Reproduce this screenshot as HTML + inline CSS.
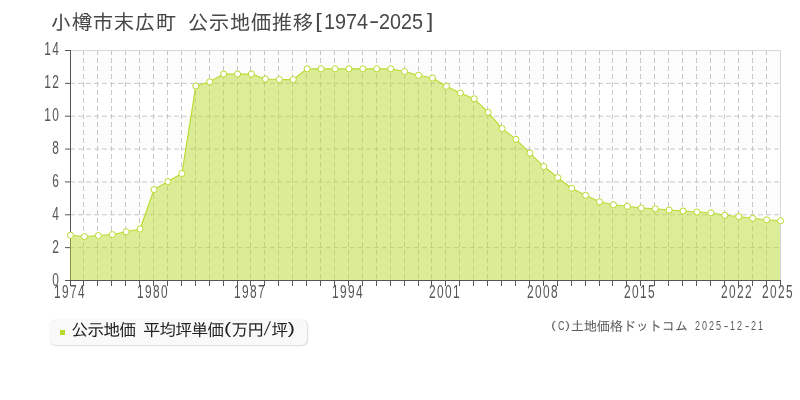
<!DOCTYPE html>
<html lang="ja">
<head>
<meta charset="utf-8">
<title>小樽市末広町 公示地価推移[1974-2025]</title>
<style>
html,body{margin:0;padding:0;background:#fff;}
body{width:800px;height:400px;position:relative;overflow:hidden;font-family:"Liberation Sans","IPAGothic","Noto Sans CJK JP",sans-serif;color:#333;}
.chart{position:absolute;left:0;top:0;}
.lat{display:inline-block;transform-origin:0 50%;white-space:nowrap;letter-spacing:0;vertical-align:baseline;position:relative;}
.lat i{font-style:normal;display:inline-block;text-align:center;letter-spacing:0;}
.lat .bl{transform:translate(0.0em,-0.02em) scale(1.2,0.87);}
.lat .br{transform:translate(0.075em,-0.02em) scale(1.2,0.87);}
.lat .pl{transform:translate(0.036em,-0.06em) scale(1.5,1.0);}
.lat .pr{transform:translate(0.03em,-0.06em) scale(1.5,1.0);}
.lat .hy{transform:translate(0.035em,-0.03em) scale(1.56,1);}
.lat .sl{transform:translate(0.02em,-0.03em) skewX(-15deg) scale(1.0,1.16);}
.lat .cc{transform:translate(0em,-0.03em) scale(0.72,0.88);}
.title{position:absolute;left:50.8px;top:10.3px;font-size:20.8px;line-height:24px;letter-spacing:0.2px;white-space:nowrap;color:#474747;}
.title .sp{display:inline-block;width:11px;}
.yl,.xl{position:absolute;font-size:17.5px;letter-spacing:2.03px;line-height:16px;height:16px;color:#555;white-space:nowrap;transform:scaleX(0.68);}
.yl{left:0;width:60.3px;text-align:right;transform-origin:100% 50%;margin-top:-0.8px;}
.xl{top:284.2px;width:60px;text-align:center;transform-origin:50% 50%;margin-left:-1.0px;}
.legend{position:absolute;left:50px;top:319.6px;width:256.8px;height:25.2px;box-sizing:border-box;background:#f9f9f9;border-radius:6px;box-shadow:0.5px 0.8px 1.5px rgba(0,0,0,.15);}
.legend .sw{position:absolute;left:10px;top:10.4px;width:5px;height:5px;background:#b9db31;}
.legend .lb{position:absolute;left:21.3px;top:0.1px;font-size:17px;letter-spacing:-1px;line-height:20px;white-space:nowrap;color:#222;}
.legend .sp{display:inline-block;width:8px;}
.copy{position:absolute;left:549.7px;top:318px;font-size:13.33px;line-height:16px;letter-spacing:-0.33px;white-space:nowrap;color:#5a5a5a;}
.copy .sp{display:inline-block;width:7px;}
.copy .pl{transform:translate(0.0em,-0.06em) scale(1.1,0.79);}
.copy .pr{transform:translate(0.0em,-0.06em) scale(1.1,0.79);}
</style>
</head>
<body>
<svg class="chart" width="800" height="400" viewBox="0 0 800 400">
<rect x="70.5" y="50.5" width="710" height="32.86" fill="#fcfcfc"/>
<rect x="70.5" y="116.21" width="710" height="32.86" fill="#fcfcfc"/>
<rect x="70.5" y="181.93" width="710" height="32.86" fill="#fcfcfc"/>
<rect x="70.5" y="247.64" width="710" height="32.86" fill="#fcfcfc"/>
<g fill="none" stroke="#c8c8c8" stroke-width="1" stroke-dasharray="5 3"><path d="M83.5 50V280.5"/><path d="M97.5 50V280.5"/><path d="M111.5 50V280.5"/><path d="M125.5 50V280.5"/><path d="M139.5 50V280.5"/><path d="M153.5 50V280.5"/><path d="M167.5 50V280.5"/><path d="M181.5 50V280.5"/><path d="M195.5 50V280.5"/><path d="M209.5 50V280.5"/><path d="M223.5 50V280.5"/><path d="M237.5 50V280.5"/><path d="M250.5 50V280.5"/><path d="M264.5 50V280.5"/><path d="M278.5 50V280.5"/><path d="M292.5 50V280.5"/><path d="M306.5 50V280.5"/><path d="M320.5 50V280.5"/><path d="M334.5 50V280.5"/><path d="M348.5 50V280.5"/><path d="M362.5 50V280.5"/><path d="M376.5 50V280.5"/><path d="M390.5 50V280.5"/><path d="M404.5 50V280.5"/><path d="M418.5 50V280.5"/><path d="M431.5 50V280.5"/><path d="M445.5 50V280.5"/><path d="M459.5 50V280.5"/><path d="M473.5 50V280.5"/><path d="M487.5 50V280.5"/><path d="M501.5 50V280.5"/><path d="M515.5 50V280.5"/><path d="M529.5 50V280.5"/><path d="M543.5 50V280.5"/><path d="M557.5 50V280.5"/><path d="M571.5 50V280.5"/><path d="M585.5 50V280.5"/><path d="M599.5 50V280.5"/><path d="M612.5 50V280.5"/><path d="M626.5 50V280.5"/><path d="M640.5 50V280.5"/><path d="M654.5 50V280.5"/><path d="M668.5 50V280.5"/><path d="M682.5 50V280.5"/><path d="M696.5 50V280.5"/><path d="M710.5 50V280.5"/><path d="M724.5 50V280.5"/><path d="M738.5 50V280.5"/><path d="M752.5 50V280.5"/><path d="M766.5 50V280.5"/><path d="M70 247.64H780.5"/><path d="M70 214.79H780.5"/><path d="M70 181.93H780.5"/><path d="M70 149.07H780.5"/><path d="M70 116.21H780.5"/><path d="M70 83.36H780.5"/></g>
<path d="M70.5 50.5H780.5V280.5" fill="none" stroke="#d5d5da" stroke-width="1"/>
<g fill="none" stroke="#555555" stroke-width="1"><path d="M70.5 50V281"/><path d="M70 280.5H781"/><path d="M65 280.5H70.5"/><path d="M65 247.64H70.5"/><path d="M65 214.79H70.5"/><path d="M65 181.93H70.5"/><path d="M65 149.07H70.5"/><path d="M65 116.21H70.5"/><path d="M65 83.36H70.5"/><path d="M65 50.5H70.5"/><path d="M70.5 280.5V286"/><path d="M83.5 280.5V286"/><path d="M97.5 280.5V286"/><path d="M111.5 280.5V286"/><path d="M125.5 280.5V286"/><path d="M139.5 280.5V286"/><path d="M153.5 280.5V286"/><path d="M167.5 280.5V286"/><path d="M181.5 280.5V286"/><path d="M195.5 280.5V286"/><path d="M209.5 280.5V286"/><path d="M223.5 280.5V286"/><path d="M237.5 280.5V286"/><path d="M250.5 280.5V286"/><path d="M264.5 280.5V286"/><path d="M278.5 280.5V286"/><path d="M292.5 280.5V286"/><path d="M306.5 280.5V286"/><path d="M320.5 280.5V286"/><path d="M334.5 280.5V286"/><path d="M348.5 280.5V286"/><path d="M362.5 280.5V286"/><path d="M376.5 280.5V286"/><path d="M390.5 280.5V286"/><path d="M404.5 280.5V286"/><path d="M418.5 280.5V286"/><path d="M431.5 280.5V286"/><path d="M445.5 280.5V286"/><path d="M459.5 280.5V286"/><path d="M473.5 280.5V286"/><path d="M487.5 280.5V286"/><path d="M501.5 280.5V286"/><path d="M515.5 280.5V286"/><path d="M529.5 280.5V286"/><path d="M543.5 280.5V286"/><path d="M557.5 280.5V286"/><path d="M571.5 280.5V286"/><path d="M585.5 280.5V286"/><path d="M599.5 280.5V286"/><path d="M612.5 280.5V286"/><path d="M626.5 280.5V286"/><path d="M640.5 280.5V286"/><path d="M654.5 280.5V286"/><path d="M668.5 280.5V286"/><path d="M682.5 280.5V286"/><path d="M696.5 280.5V286"/><path d="M710.5 280.5V286"/><path d="M724.5 280.5V286"/><path d="M738.5 280.5V286"/><path d="M752.5 280.5V286"/><path d="M766.5 280.5V286"/><path d="M780.5 280.5V286"/></g>
<path d="M70 280L70 235.3L70.5 235.3L84.42 236.55L98.34 235.55L112.26 234.55L126.19 231.8L140.11 229.05L154.03 189.55L167.95 181.55L181.87 173.55L195.79 86.05L209.72 81.8L223.64 74.05L237.56 74.05L251.48 74.05L265.4 79.05L279.32 79.55L293.25 79.55L307.17 68.8L321.09 68.8L335.01 68.8L348.93 68.8L362.85 68.8L376.77 68.8L390.7 68.8L404.62 71.55L418.54 75.3L432.46 78.05L446.38 86.3L460.3 93.05L474.23 98.8L488.15 112.3L502.07 128.55L515.99 139.3L529.91 153.05L543.83 166.55L557.75 177.55L571.68 188.3L585.6 195.3L599.52 201.8L613.44 204.8L627.36 206.3L641.28 208.05L655.21 208.8L669.13 210.05L683.05 211.05L696.97 212.05L710.89 212.8L724.81 215.3L738.74 216.55L752.66 218.3L766.58 219.8L780 220.8L780 280Z" fill="#b9db31" fill-opacity="0.5"/>
<path d="M70.5 235.3L84.42 236.55L98.34 235.55L112.26 234.55L126.19 231.8L140.11 229.05L154.03 189.55L167.95 181.55L181.87 173.55L195.79 86.05L209.72 81.8L223.64 74.05L237.56 74.05L251.48 74.05L265.4 79.05L279.32 79.55L293.25 79.55L307.17 68.8L321.09 68.8L335.01 68.8L348.93 68.8L362.85 68.8L376.77 68.8L390.7 68.8L404.62 71.55L418.54 75.3L432.46 78.05L446.38 86.3L460.3 93.05L474.23 98.8L488.15 112.3L502.07 128.55L515.99 139.3L529.91 153.05L543.83 166.55L557.75 177.55L571.68 188.3L585.6 195.3L599.52 201.8L613.44 204.8L627.36 206.3L641.28 208.05L655.21 208.8L669.13 210.05L683.05 211.05L696.97 212.05L710.89 212.8L724.81 215.3L738.74 216.55L752.66 218.3L766.58 219.8L780.5 220.8" fill="none" stroke="#b9db31" stroke-width="1.15" stroke-linejoin="round" stroke-linecap="round"/>
<g fill="#ffffff" stroke="#b9db31" stroke-width="1"><circle cx="70.5" cy="235.3" r="3.05"/><circle cx="84.42" cy="236.55" r="3.05"/><circle cx="98.34" cy="235.55" r="3.05"/><circle cx="112.26" cy="234.55" r="3.05"/><circle cx="126.19" cy="231.8" r="3.05"/><circle cx="140.11" cy="229.05" r="3.05"/><circle cx="154.03" cy="189.55" r="3.05"/><circle cx="167.95" cy="181.55" r="3.05"/><circle cx="181.87" cy="173.55" r="3.05"/><circle cx="195.79" cy="86.05" r="3.05"/><circle cx="209.72" cy="81.8" r="3.05"/><circle cx="223.64" cy="74.05" r="3.05"/><circle cx="237.56" cy="74.05" r="3.05"/><circle cx="251.48" cy="74.05" r="3.05"/><circle cx="265.4" cy="79.05" r="3.05"/><circle cx="279.32" cy="79.55" r="3.05"/><circle cx="293.25" cy="79.55" r="3.05"/><circle cx="307.17" cy="68.8" r="3.05"/><circle cx="321.09" cy="68.8" r="3.05"/><circle cx="335.01" cy="68.8" r="3.05"/><circle cx="348.93" cy="68.8" r="3.05"/><circle cx="362.85" cy="68.8" r="3.05"/><circle cx="376.77" cy="68.8" r="3.05"/><circle cx="390.7" cy="68.8" r="3.05"/><circle cx="404.62" cy="71.55" r="3.05"/><circle cx="418.54" cy="75.3" r="3.05"/><circle cx="432.46" cy="78.05" r="3.05"/><circle cx="446.38" cy="86.3" r="3.05"/><circle cx="460.3" cy="93.05" r="3.05"/><circle cx="474.23" cy="98.8" r="3.05"/><circle cx="488.15" cy="112.3" r="3.05"/><circle cx="502.07" cy="128.55" r="3.05"/><circle cx="515.99" cy="139.3" r="3.05"/><circle cx="529.91" cy="153.05" r="3.05"/><circle cx="543.83" cy="166.55" r="3.05"/><circle cx="557.75" cy="177.55" r="3.05"/><circle cx="571.68" cy="188.3" r="3.05"/><circle cx="585.6" cy="195.3" r="3.05"/><circle cx="599.52" cy="201.8" r="3.05"/><circle cx="613.44" cy="204.8" r="3.05"/><circle cx="627.36" cy="206.3" r="3.05"/><circle cx="641.28" cy="208.05" r="3.05"/><circle cx="655.21" cy="208.8" r="3.05"/><circle cx="669.13" cy="210.05" r="3.05"/><circle cx="683.05" cy="211.05" r="3.05"/><circle cx="696.97" cy="212.05" r="3.05"/><circle cx="710.89" cy="212.8" r="3.05"/><circle cx="724.81" cy="215.3" r="3.05"/><circle cx="738.74" cy="216.55" r="3.05"/><circle cx="752.66" cy="218.3" r="3.05"/><circle cx="766.58" cy="219.8" r="3.05"/><circle cx="780.5" cy="220.8" r="3.05"/></g>
</svg>
<div class="title">小樽市末広町<span class="sp"> </span>公示地価推移<span class="lat" style="font-size:22.66px;width:138.6px;margin-right:-17.6px;transform:scaleX(0.873);top:-1.7px;left:-1px"><i class="bl" style="width:12.6px">[</i>1974<i class="hy" style="width:12.6px">-</i>2025<i class="br" style="width:12.6px">]</i></span></div>
<div class="ylabels"><div class="yl" style="top:272.5px">0</div><div class="yl" style="top:239.64px">2</div><div class="yl" style="top:206.79px">4</div><div class="yl" style="top:173.93px">6</div><div class="yl" style="top:141.07px">8</div><div class="yl" style="top:108.21px">10</div><div class="yl" style="top:74.76px">12</div><div class="yl" style="top:41.3px">14</div></div>
<div class="xlabels"><div class="xl" style="left:40.5px">1974</div><div class="xl" style="left:123.9px">1980</div><div class="xl" style="left:220.9px">1987</div><div class="xl" style="left:318.9px">1994</div><div class="xl" style="left:415.9px">2001</div><div class="xl" style="left:513.9px">2008</div><div class="xl" style="left:610.9px">2015</div><div class="xl" style="left:708px">2022</div><div class="xl" style="left:749.4px">2025</div></div>
<div class="legend"><span class="sw"></span><span class="lb">公示地価<span class="sp"> </span>平均坪単価<span class="lat" style="font-size:16.48px;width:9.16px;margin-right:-1.16px;transform:scaleX(0.873);top:-1px;left:0px"><i class="pl" style="width:9.16px">(</i></span>万円<span class="lat" style="font-size:16.48px;width:9.16px;margin-right:-1.16px;transform:scaleX(0.873);top:-1px;left:0px"><i class="sl" style="width:9.16px">/</i></span>坪<span class="lat" style="font-size:16.48px;width:9.16px;margin-right:-1.16px;transform:scaleX(0.873);top:-1px;left:0px"><i class="pr" style="width:9.16px">)</i></span></span></div>
<div class="copy"><span class="lat" style="font-size:14.42px;width:24.05px;margin-right:-3.05px;transform:scaleX(0.873);top:-0.5px;left:0px"><i class="pl" style="width:8.02px">(</i><i class="cc" style="width:8.02px">C</i><i class="pr" style="width:8.02px">)</i></span>土地価格ドットコム<span class="sp"> </span><span class="lat" style="font-size:12.9px;width:100px;margin-right:-30px;transform:scaleX(0.7);letter-spacing:2.83px;top:-1.3px;left:0px">2025<i class="hy" style="width:10px;margin:0 1.41px 0 -1.41px">-</i>12<i class="hy" style="width:10px;margin:0 1.41px 0 -1.41px">-</i>21</span></div>
</body>
</html>
